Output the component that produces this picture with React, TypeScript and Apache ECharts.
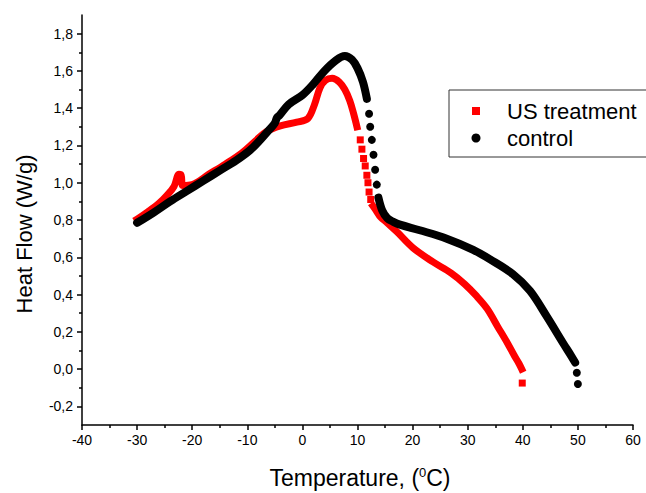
import React, { useEffect, useRef } from "react";
import * as echarts from "echarts";

// ---- data ----
const usDense1: [number, number][] = [
  [-30.0, 0.805], [-28.0, 0.845], [-26.0, 0.89], [-24.5, 0.935], [-23.3, 0.98],
  [-22.4, 1.045], [-22.0, 1.04], [-21.7, 0.985], [-20, 0.99], [-17, 1.045],
  [-14, 1.1], [-11, 1.16], [-8.5, 1.225], [-6.5, 1.275], [-4, 1.305],
  [-1, 1.325], [1, 1.345], [2.2, 1.42], [3.2, 1.51], [4.2, 1.55],
  [5.4, 1.56], [6.7, 1.54], [7.7, 1.5], [8.6, 1.44], [9.3, 1.37], [9.9, 1.3],
];
const usSparse: [number, number][] = [
  [10.5, 1.23], [10.8, 1.18], [11.1, 1.13], [11.4, 1.09], [11.7, 1.04],
  [11.9, 1.0], [12.1, 0.95], [12.4, 0.91], [39.9, -0.075],
];
const usDense2: [number, number][] = [
  [12.8, 0.875], [13.4, 0.85], [14.2, 0.815], [15.4, 0.785], [17.2, 0.735],
  [20.1, 0.65], [23.7, 0.575], [27.0, 0.515], [29.5, 0.455], [31.5, 0.395],
  [33.5, 0.325], [35.5, 0.225], [37.2, 0.14], [38.5, 0.07], [39.3, 0.03], [39.8, 0.0],
];

const ctrlDense1: [number, number][] = [
  [-30, 0.785], [-27, 0.84], [-24, 0.9], [-21, 0.955], [-18, 1.01],
  [-15, 1.065], [-12, 1.12], [-9.5, 1.175], [-7.5, 1.235], [-6, 1.285],
  [-5, 1.32], [-4.6, 1.35], [-4.2, 1.36], [-2.5, 1.42], [0, 1.47],
  [2, 1.53], [4, 1.6], [6, 1.655], [7.7, 1.68], [9, 1.66], [10, 1.615],
  [11, 1.54], [11.7, 1.45],
];
const ctrlSparse: [number, number][] = [
  [12.1, 1.37], [12.3, 1.3], [12.6, 1.23], [12.9, 1.15], [13.2, 1.07],
  [13.5, 0.99], [49.8, -0.02], [50.0, -0.08],
];
const ctrlDense2: [number, number][] = [
  [13.8, 0.92], [14.5, 0.85], [15.4, 0.81], [16.5, 0.79], [17.7, 0.775],
  [21.3, 0.745], [26.2, 0.7], [31.0, 0.64], [34.0, 0.59],
  [38.2, 0.51], [41.3, 0.42], [44.4, 0.28], [47.3, 0.14], [48.8, 0.07], [49.5, 0.035],
];

const yLabelValues = [-0.2, 0.0, 0.2, 0.4, 0.6, 0.8, 1.0, 1.2, 1.4, 1.6, 1.8];
const yMinorValues = [-0.1, 0.1, 0.3, 0.5, 0.7, 0.9, 1.1, 1.3, 1.5, 1.7];
const legendNames = ["US treatment", "control"];

const RED = "#ff0000";
const BLACK = "#000000";
const FONT = "Liberation Sans, Arial, sans-serif";

export default function App() {
  const ref = useRef<HTMLDivElement>(null);
  useEffect(() => {
    if (!ref.current) return;
    const chart = echarts.init(ref.current, undefined, { renderer: "svg" });
    const denseLine = (data: [number, number][], color: string, width: number, cap: string) => ({
      type: "line",
      data,
      showSymbol: false,
      smooth: 0.35,
      lineStyle: { color, width, cap, join: "round" },
      silent: true,
    });
    chart.setOption({
      animation: false,
      backgroundColor: "#fff",
      grid: { left: 82, right: 13, top: 15, bottom: 68, containLabel: false },
      xAxis: {
        type: "value",
        min: -40,
        max: 60,
        interval: 10,
        axisLine: { onZero: false, lineStyle: { color: BLACK, width: 1.5 } },
        axisTick: { inside: false, length: 5, lineStyle: { color: BLACK, width: 1.5 } },
        minorTick: { show: true, splitNumber: 2, length: 3, lineStyle: { color: BLACK, width: 1.5 } },
        splitLine: { show: false },
        axisLabel: { color: BLACK, fontSize: 14, fontFamily: FONT, margin: 8 },
      },
      yAxis: [
        {
          type: "value",
          min: -0.3,
          max: 1.9,
          axisLine: { show: true, onZero: false, lineStyle: { color: BLACK, width: 1.5 } },
          axisTick: { show: true, inside: false, length: 5, customValues: yLabelValues, lineStyle: { color: BLACK, width: 1.5 } },
          splitLine: { show: false },
          axisLabel: {
            color: BLACK,
            fontSize: 14,
            fontFamily: FONT,
            margin: 9,
            customValues: yLabelValues,
            formatter: (v: number) => v.toFixed(1).replace(".", ","),
          },
        },
        {
          type: "value",
          min: -0.3,
          max: 1.9,
          position: "left",
          axisLine: { show: false, onZero: false },
          axisTick: { show: true, inside: false, length: 3, customValues: yMinorValues, lineStyle: { color: BLACK, width: 1.5 } },
          axisLabel: { show: false },
          splitLine: { show: false },
        },
      ],
      series: [
        { name: legendNames[0], ...denseLine(usDense1, RED, 7, "square") },
        { name: legendNames[0], ...denseLine(usDense2, RED, 7, "square") },
        { name: legendNames[0], type: "scatter", data: usSparse, symbol: "rect", symbolSize: 7, itemStyle: { color: RED, opacity: 1 }, silent: true },
        { name: legendNames[1], ...denseLine(ctrlDense1, BLACK, 8, "round") },
        { name: legendNames[1], ...denseLine(ctrlDense2, BLACK, 8, "round") },
        { name: legendNames[1], type: "scatter", data: ctrlSparse, symbol: "circle", symbolSize: 8, itemStyle: { color: BLACK, opacity: 1 }, silent: true },
      ],
      graphic: [
        {
          type: "text",
          x: 360,
          y: 489,
          style: {
            text: "{n|Temperature, (}{s|0}{n|C)}",
            align: "center",
            verticalAlign: "bottom",
            rich: {
              n: { fontSize: 23, fontFamily: FONT, fill: BLACK },
              s: { fontSize: 13, fontFamily: FONT, fill: BLACK, verticalAlign: "top", padding: [0, 0, 10, 0] },
            },
          },
        },
        {
          type: "text",
          x: 24,
          y: 234,
          rotation: Math.PI / 2,
          style: {
            text: "Heat Flow (W/g)",
            fontSize: 22,
            fontFamily: FONT,
            fill: BLACK,
            align: "center",
            verticalAlign: "middle",
          },
        },
        {
          type: "group",
          z: 100,
          children: [
            { type: "rect", shape: { x: 449, y: 90, width: 220, height: 67 }, style: { fill: "#fff", stroke: "#333", lineWidth: 1 } },
            { type: "rect", shape: { x: 472, y: 107, width: 8, height: 8 }, style: { fill: RED } },
            { type: "circle", shape: { cx: 476, cy: 138, r: 4.5 }, style: { fill: BLACK } },
            { type: "text", x: 507, y: 111, style: { text: legendNames[0], fontSize: 22, fontFamily: FONT, fill: BLACK, verticalAlign: "middle" } },
            { type: "text", x: 507, y: 138, style: { text: legendNames[1], fontSize: 22, fontFamily: FONT, fill: BLACK, verticalAlign: "middle" } },
          ],
        },
      ],
    });
    return () => chart.dispose();
  }, []);
  return <div ref={ref} style={{ width: 646, height: 493, position: "absolute", left: 0, top: 0 }} />;
}
